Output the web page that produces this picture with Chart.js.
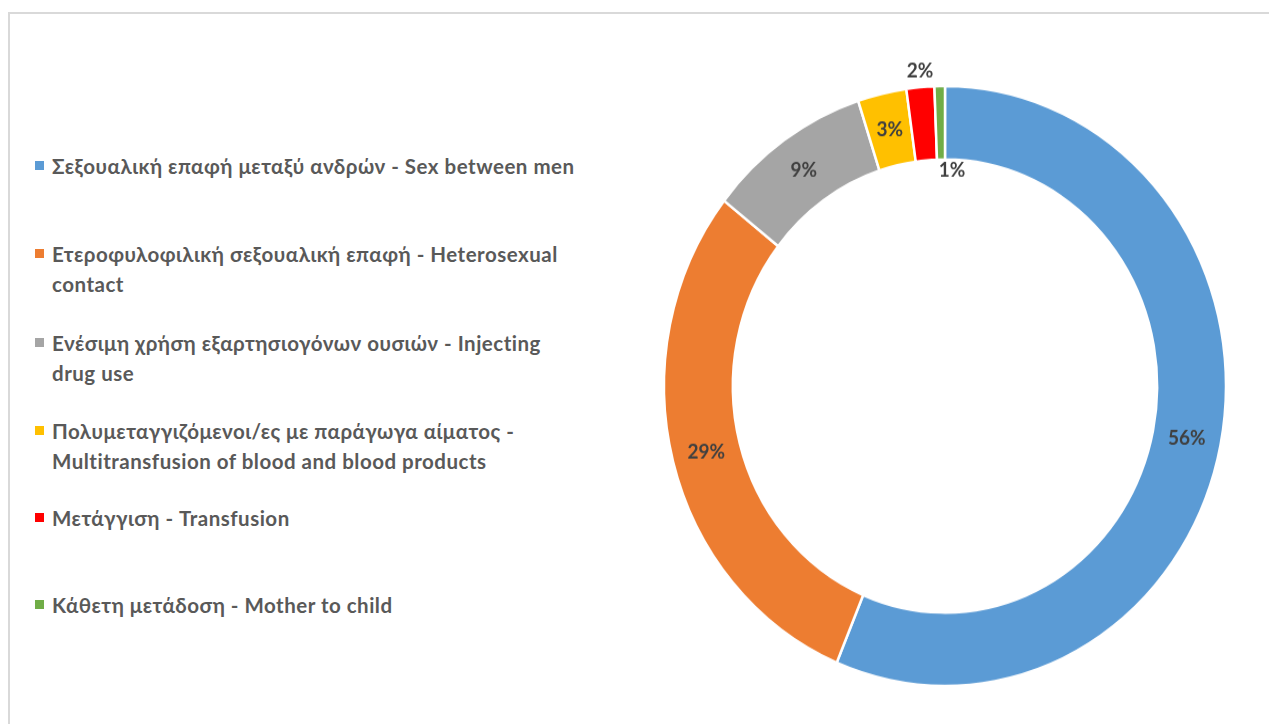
<!DOCTYPE html>
<html>
<head>
<meta charset="utf-8">
<script src="https://cdn.jsdelivr.net/npm/chart.js@4.4.0/dist/chart.umd.min.js"></script>
<style>
  body { margin: 0; background: #fff; overflow: hidden; width: 1269px; height: 724px; position: relative; }
  #frame { position: absolute; left: 8px; top: 12px; width: 1300px; height: 800px; border: 2px solid #d9d9d9; }
  #legend { position: absolute; left: 35px; top: 0; font-family: Lato, "Noto Sans", sans-serif; font-weight: bold; font-size: 20.5px; letter-spacing: 0.5px; color: #595959; }
  .item { position: absolute; left: 0; white-space: pre; line-height: 30px; }
  .item span.box { position: absolute; left: 0; top: 10px; width: 9px; height: 9px; }
  .item span.txt { position: absolute; left: 17px; top: 0; }
  #wrap { position: absolute; left: 625px; top: 65.5px; width: 640px; height: 640px; transform: scaleY(1.0676); transform-origin: 50% 50%; }
</style>
</head>
<body>
<div id="frame"></div>
<div id="legend"></div>
<div id="wrap"><canvas id="myChart"></canvas></div>
<script>
var labels = [
  'Σεξουαλική επαφή μεταξύ ανδρών - Sex between men',
  'Ετεροφυλοφιλική σεξουαλική επαφή - Heterosexual\ncontact',
  'Ενέσιμη χρήση εξαρτησιογόνων ουσιών - Injecting\ndrug use',
  'Πολυμεταγγιζόμενοι/ες με παράγωγα αίματος -\nMultitransfusion of blood and blood products',
  'Μετάγγιση - Transfusion',
  'Κάθετη μετάδοση - Mother to child'
];
// share of cases, percent
var values = [56.3, 29.3, 9.4, 2.8, 1.6, 0.6];
var colors = ['#5B9BD5', '#ED7D31', '#A5A5A5', '#FFC000', '#FF0000', '#70AD47'];
// legend rows (top of first text line)
var legendTops = [151, 239, 328, 416, 503, 590];

window.onload = function(){

    // html legend, text wraps like the original
    var lg = document.getElementById('legend');
    labels.forEach(function(l, i){
        var d = document.createElement('div');
        d.className = 'item';
        d.style.top = legendTops[i] + 'px';
        d.innerHTML = '<span class="box" style="background:' + colors[i] + '"></span><span class="txt"></span>';
        d.querySelector('.txt').textContent = l;
        lg.appendChild(d);
    });

    var total = values.reduce(function(a, b){ return a + b; }, 0);

    // percent labels on the ring
    var pctLabels = {
        id: 'pctLabels',
        afterDatasetsDraw: function(chart){
            var ctx = chart.ctx;
            var meta = chart.getDatasetMeta(0);
            ctx.save();
            ctx.font = 'bold 19px Lato, "Noto Sans", sans-serif';
            ctx.fillStyle = '#404040';
            ctx.textAlign = 'center';
            ctx.textBaseline = 'middle';
            meta.data.forEach(function(arc, i){
                var p = arc.getProps(['x', 'y', 'startAngle', 'endAngle', 'innerRadius', 'outerRadius'], true);
                var a = (p.startAngle + p.endAngle) / 2;
                var r = (p.innerRadius + p.outerRadius) / 2;
                var x = p.x + Math.cos(a) * r;
                var y = p.y + Math.sin(a) * r;
                if (i == 4) { x = p.x - 25; y = p.y - p.outerRadius - 14; }
                if (i == 5) { x = p.x + 7; y = p.y - p.innerRadius + 10; }
                ctx.fillText(Math.round(values[i] / total * 100) + '%', x, y);
            });
            ctx.restore();
        }
    };

    var ctx = document.getElementById('myChart');
    var chart = new Chart(ctx, {
        type: 'doughnut',
        data: {
            labels: labels,
            datasets: [{
                data: values,
                backgroundColor: colors,
                borderColor: '#ffffff',
                borderWidth: 2.5
            }]
        },
        options: {
            responsive: true,
            maintainAspectRatio: false,
            animation: false,
            radius: 281,
            cutout: '75.5%',
            plugins: {
                legend: { display: false },
                tooltip: { enabled: false }
            }
        },
        plugins: [pctLabels]
    });
}
</script>
</body>
</html>
